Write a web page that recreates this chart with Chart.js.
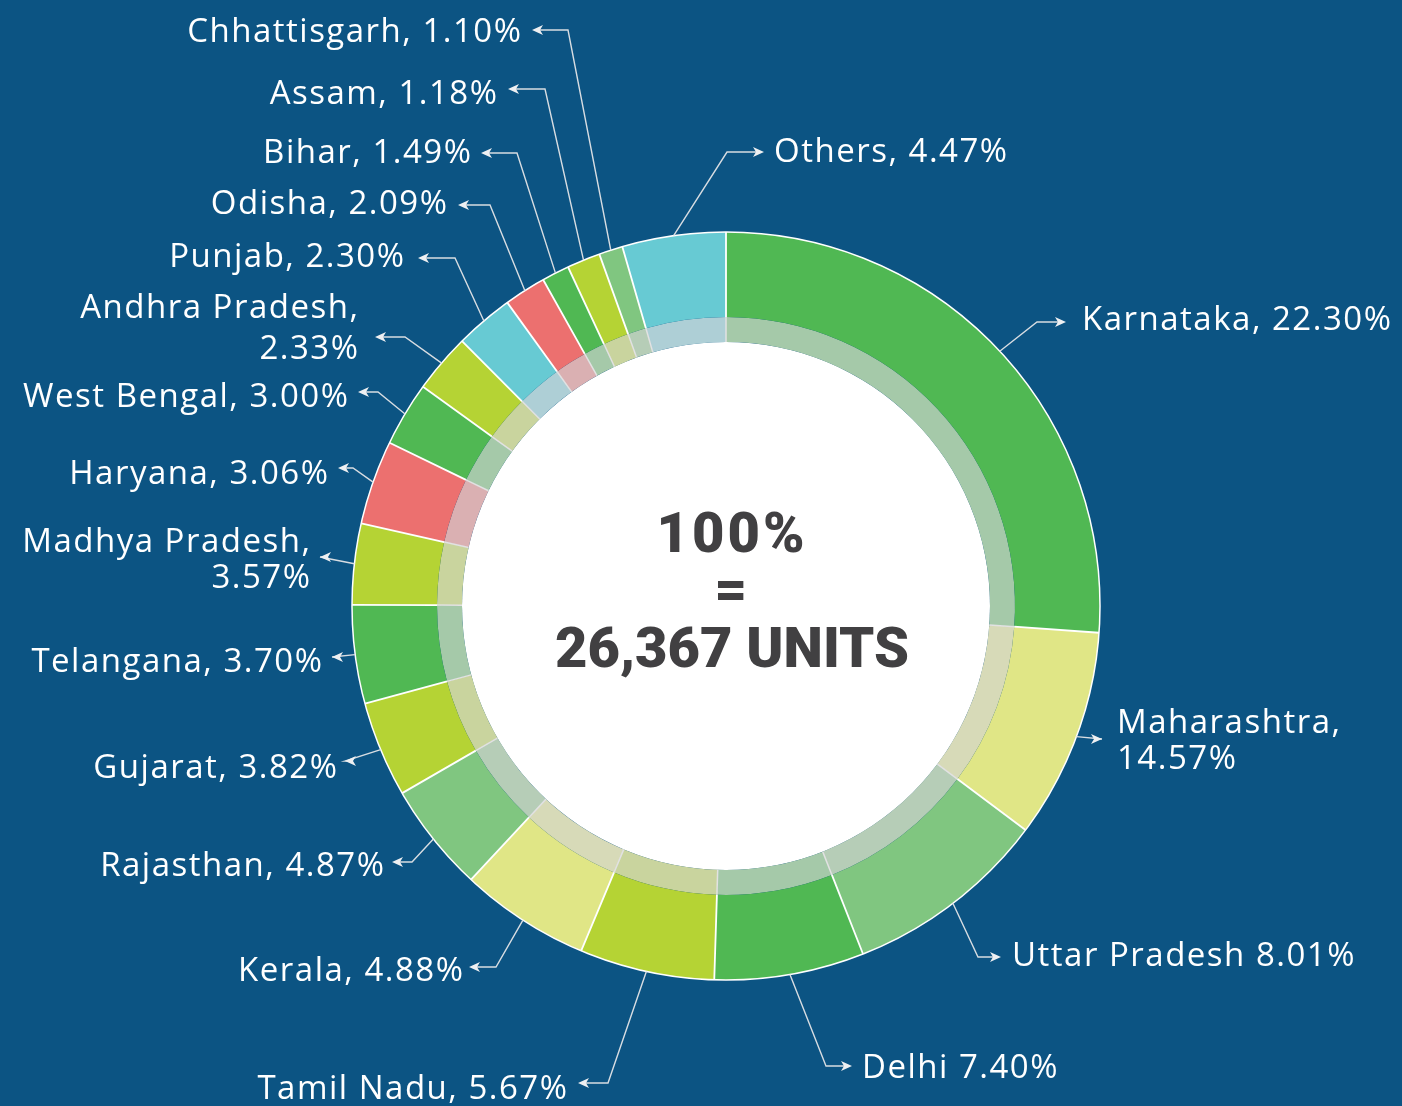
<!DOCTYPE html>
<html>
<head>
<meta charset="utf-8">
<script src="https://cdn.jsdelivr.net/npm/chart.js@4.4.0/dist/chart.umd.min.js"></script>
<style>
  html, body { margin: 0; padding: 0; background: #0c5483; }
  #wrap { position: relative; width: 1402px; height: 1106px; }
</style>
</head>
<body>
<div id="wrap"><canvas id="shareChart"></canvas></div>
<script>
// States, clockwise from 12 o'clock
const states = ['Karnataka', 'Maharashtra', 'Uttar Pradesh', 'Delhi', 'Tamil Nadu', 'Kerala', 'Rajasthan',
    'Gujarat', 'Telangana', 'Madhya Pradesh', 'Haryana', 'West Bengal', 'Andhra Pradesh', 'Punjab',
    'Odisha', 'Bihar', 'Assam', 'Chhattisgarh', 'Others'];

// Share text as printed next to each slice
const shareText = ['22.30%', '14.57%', '8.01%', '7.40%', '5.67%', '4.88%', '4.87%',
    '3.82%', '3.70%', '3.57%', '3.06%', '3.00%', '2.33%', '2.30%',
    '2.09%', '1.49%', '1.18%', '1.10%', '4.47%'];

const arcShare = [26.14, 9.08, 8.81, 6.47, 5.83, 5.61, 4.72,
    4.14, 4.25, 3.50, 3.64, 2.78, 2.56, 2.53,
    1.81, 1.19, 1.44, 1.03, 4.47];

const centerLines = ['100%', '=', '26,367 UNITS'];

// label text: separator between name and value, and line breaks
const labelText = states.map((s, i) => {
    if (s === 'Delhi' || s === 'Uttar Pradesh') return s + ' ' + shareText[i];
    if (s === 'Andhra Pradesh' || s === 'Madhya Pradesh' || s === 'Maharashtra') return s + ',\n' + shareText[i];
    return s + ', ' + shareText[i];
});

const GREEN = '#50b853', PALE = '#e0e686', LIGHT = '#80c680', LIME = '#b5d334', RED = '#ec706f', CYAN = '#67cad3';
const outerColors = [GREEN, PALE, LIGHT, GREEN, LIME, PALE, LIGHT, LIME, GREEN, LIME, RED, GREEN, LIME, CYAN, RED, GREEN, LIME, LIGHT, CYAN];
const innerTint = {};
innerTint[GREEN] = '#a5c9a9';
innerTint[PALE] = '#d7dab8';
innerTint[LIGHT] = '#b6cdb7';
innerTint[LIME] = '#c9d49e';
innerTint[RED] = '#dab0b2';
innerTint[CYAN] = '#aecfd6';
const innerColors = outerColors.map(c => innerTint[c]);

// Callout layout: text edge x, baselines, arrow tip, x of the elbow
const callouts = [
    { side: 'R', x: 1082, base: [330], tip: [1066, 322], bend: 1037 },
    { side: 'R', x: 1117, base: [733, 769], tip: [1102, 739], bend: 1102 },
    { side: 'R', x: 1012, base: [966], tip: [1001, 957], bend: 978 },
    { side: 'R', x: 862, base: [1078], tip: [852, 1066], bend: 826 },
    { side: 'L', x: 567, base: [1099], tip: [578, 1083], bend: 608 },
    { side: 'L', x: 463, base: [981], tip: [469, 967], bend: 496 },
    { side: 'L', x: 384, base: [876], tip: [392, 862], bend: 412 },
    { side: 'L', x: 337, base: [778], tip: [345, 761], bend: 345 },
    { side: 'L', x: 322, base: [672], tip: [332, 657], bend: 332 },
    { side: 'L', x: 310, base: [552, 588], tip: [320, 557], bend: 320 },
    { side: 'L', x: 328, base: [484], tip: [338, 468], bend: 353 },
    { side: 'L', x: 348, base: [407], tip: [358, 392], bend: 378 },
    { side: 'L', x: 358, base: [318, 359], tip: [375, 337], bend: 405 },
    { side: 'L', x: 404, base: [267], tip: [418, 258], bend: 455 },
    { side: 'L', x: 447, base: [214], tip: [458, 205], bend: 490 },
    { side: 'L', x: 471, base: [163], tip: [481, 153], bend: 517 },
    { side: 'L', x: 497, base: [104], tip: [508, 89], bend: 545 },
    { side: 'L', x: 521, base: [42], tip: [532, 30], bend: 568 },
    { side: 'R', x: 774, base: [162], tip: [764, 152], bend: 727 }
];

function arrowHead(ctx, x, y, dir) {
    // dir: +1 points right, -1 points left
    ctx.beginPath();
    ctx.moveTo(x, y);
    ctx.lineTo(x - dir * 11, y - 5);
    ctx.lineTo(x - dir * 8, y);
    ctx.lineTo(x - dir * 11, y + 5);
    ctx.closePath();
    ctx.fill();
}

function setSpacing(ctx, px) {
    if ('letterSpacing' in ctx) ctx.letterSpacing = px + 'px';
}

const ringDecor = {
    id: 'ringDecor',
    beforeDatasetsDraw(chart) {
        const a = chart.getDatasetMeta(1).data[0];
        const ctx = chart.ctx;
        ctx.save();
        ctx.beginPath();
        ctx.arc(a.x, a.y, a.innerRadius, 0, Math.PI * 2);
        ctx.fillStyle = '#ffffff';
        ctx.fill();
        ctx.restore();
    },
    afterDatasetsDraw(chart) {
        const ctx = chart.ctx;
        const outer = chart.getDatasetMeta(0).data;
        const inner = chart.getDatasetMeta(1).data;
        const cx = outer[0].x, cy = outer[0].y;
        ctx.save();

        // slice separators
        [[inner, '#e2e2e2', 1.5], [outer, '#ffffff', 1.8]].forEach(([arcs, color, w]) => {
            ctx.strokeStyle = color;
            ctx.lineWidth = w;
            ctx.beginPath();
            arcs.forEach(a => {
                const ang = a.startAngle;
                ctx.moveTo(cx + Math.cos(ang) * a.innerRadius, cy + Math.sin(ang) * a.innerRadius);
                ctx.lineTo(cx + Math.cos(ang) * a.outerRadius, cy + Math.sin(ang) * a.outerRadius);
            });
            ctx.stroke();
        });

        // rim
        ctx.strokeStyle = '#ffffff';
        ctx.lineWidth = 1.5;
        ctx.beginPath();
        ctx.arc(cx, cy, outer[0].outerRadius, 0, Math.PI * 2);
        ctx.stroke();

        // callouts
        ctx.strokeStyle = '#d8dde2';
        ctx.fillStyle = '#eef0f2';
        ctx.lineWidth = 1.4;
        outer.forEach((a, i) => {
            const c = callouts[i];
            const mid = (a.startAngle + a.endAngle) / 2;
            const sx = cx + Math.cos(mid) * a.outerRadius;
            const sy = cy + Math.sin(mid) * a.outerRadius;
            const dir = c.side === 'R' ? 1 : -1;
            ctx.beginPath();
            ctx.moveTo(sx, sy);
            ctx.lineTo(c.bend, c.tip[1]);
            ctx.lineTo(c.tip[0] - dir * 6, c.tip[1]);
            ctx.stroke();
            arrowHead(ctx, c.tip[0], c.tip[1], dir);
        });

        ctx.fillStyle = '#ffffff';
        ctx.font = '400 33px "Open Sans"';
        setSpacing(ctx, 1.5);
        ctx.textBaseline = 'alphabetic';
        labelText.forEach((t, i) => {
            const c = callouts[i];
            ctx.textAlign = c.side === 'R' ? 'left' : 'right';
            const x = c.side === 'R' ? c.x : c.x + 1.5;
            t.split('\n').forEach((line, k) => ctx.fillText(line, x, c.base[k]));
        });

        // centre text
        ctx.fillStyle = '#414042';
        ctx.textAlign = 'center';
        ctx.font = '900 56px Roboto';
        setSpacing(ctx, 3);
        ctx.fillText(centerLines[0], 732, 552);
        setSpacing(ctx, 0);
        ctx.fillText(centerLines[1], 731, 608);
        ctx.fillText(centerLines[2], 732, 667);
        ctx.restore();
    }
};

new Chart(document.getElementById('shareChart'), {
    type: 'doughnut',
    data: {
        labels: states,
        datasets: [
            { data: arcShare, backgroundColor: outerColors, borderWidth: 0, weight: 85 },
            { data: arcShare, backgroundColor: innerColors, borderWidth: 0, weight: 25 }
        ]
    },
    options: {
        responsive: true,
        maintainAspectRatio: false,
        animation: false,
        cutout: 264,
        layout: { padding: { left: 352, right: 302, top: 232, bottom: 126 } },
        plugins: {
            legend: { display: false },
            tooltip: { enabled: false }
        }
    },
    plugins: [ringDecor]
});
</script>
</body>
</html>
